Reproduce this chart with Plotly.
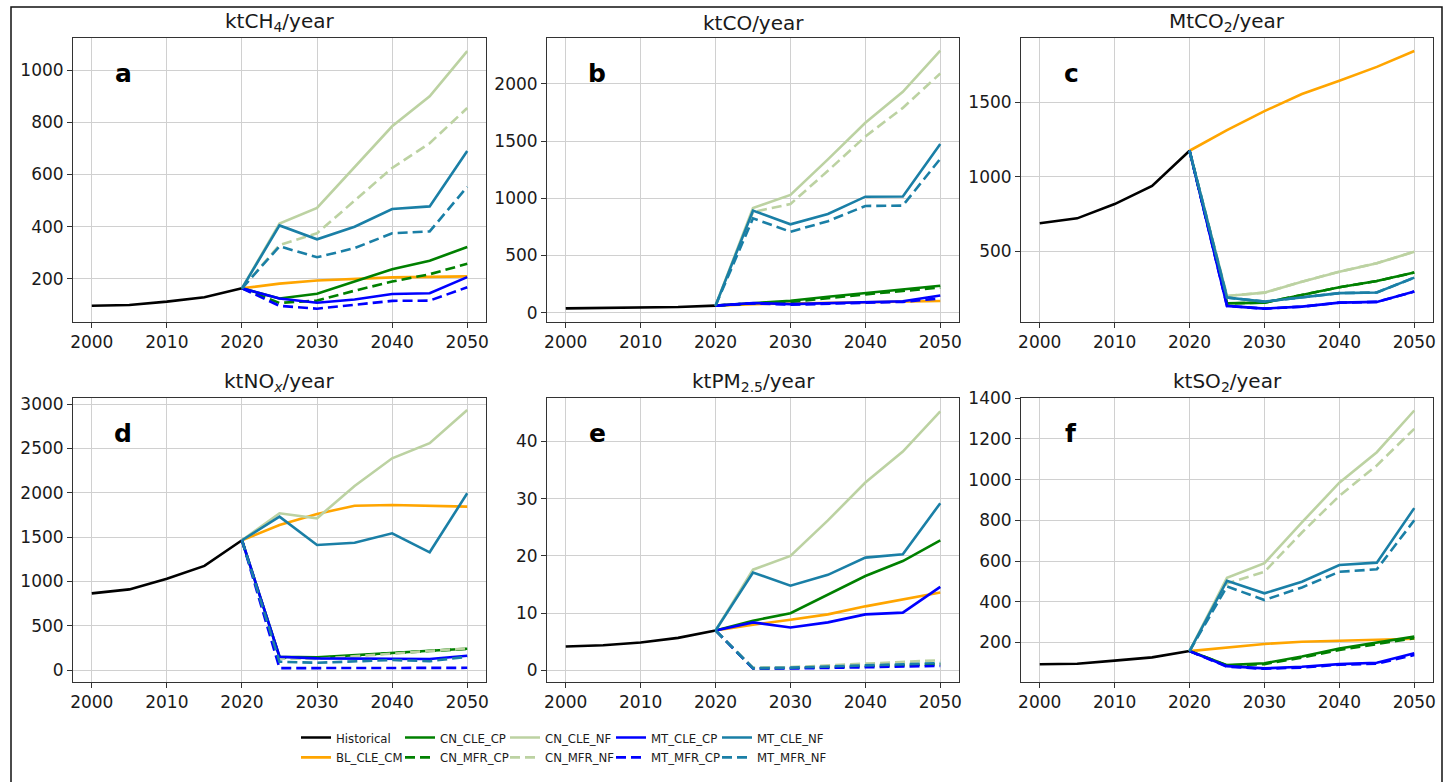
import plotly.graph_objects as go

W, H = 1443, 782

# ---------------- data ----------------
HIST_YEARS = [2000, 2005, 2010, 2015, 2020]
SCEN_YEARS = [2020, 2025, 2030, 2035, 2040, 2045, 2050]
X_TICKS = [2000, 2010, 2020, 2030, 2040, 2050]

SERIES = ["Historical", "BL_CLE_CM", "CN_CLE_CP", "CN_MFR_CP", "CN_CLE_NF",
          "CN_MFR_NF", "MT_CLE_CP", "MT_MFR_CP", "MT_CLE_NF", "MT_MFR_NF"]

# panel a: ktCH4/year
CH4_Historical = [97, 100, 113, 130, 164]
CH4_BL_CLE_CM = [164, 182, 194, 201, 206, 208, 210]
CH4_CN_CLE_CP = [164, 125, 143, 190, 237, 270, 322]
CH4_CN_MFR_CP = [164, 108, 117, 155, 190, 218, 258]
CH4_CN_CLE_NF = [164, 412, 472, 628, 785, 900, 1073]
CH4_CN_MFR_NF = [164, 330, 375, 500, 625, 720, 855]
CH4_MT_CLE_CP = [164, 125, 109, 121, 142, 145, 207]
CH4_MT_MFR_CP = [164, 97, 86, 100, 116, 117, 168]
CH4_MT_CLE_NF = [164, 405, 352, 400, 468, 478, 690]
CH4_MT_MFR_NF = [164, 325, 283, 318, 375, 382, 553]

# panel b: ktCO/year
CO_Historical = [38, 40, 44, 50, 62]
CO_BL_CLE_CM = [62, 75, 80, 85, 90, 95, 103]
CO_CN_CLE_CP = [62, 85, 105, 140, 170, 200, 236]
CO_CN_MFR_CP = [62, 82, 95, 130, 160, 190, 220]
CO_CN_CLE_NF = [62, 915, 1030, 1340, 1660, 1930, 2290]
CO_CN_MFR_NF = [62, 880, 950, 1240, 1540, 1790, 2090]
CO_MT_CLE_CP = [62, 85, 75, 85, 96, 100, 150]
CO_MT_MFR_CP = [62, 82, 70, 80, 90, 95, 125]
CO_MT_CLE_NF = [62, 892, 773, 863, 1014, 1016, 1475]
CO_MT_MFR_NF = [62, 825, 708, 800, 933, 936, 1345]

# panel c: MtCO2/year
CO2_Historical = [688, 721, 817, 938, 1175]
CO2_BL_CLE_CM = [1175, 1314, 1441, 1556, 1645, 1738, 1845]
CO2_CN_CLE_CP = [1175, 150, 155, 207, 258, 300, 357]
CO2_CN_MFR_CP = [1175, 150, 155, 207, 258, 300, 357]
CO2_CN_CLE_NF = [1175, 200, 222, 296, 363, 420, 497]
CO2_CN_MFR_NF = [1175, 200, 222, 296, 363, 420, 497]
CO2_MT_CLE_CP = [1175, 133, 115, 128, 155, 160, 229]
CO2_MT_MFR_CP = [1175, 133, 115, 128, 155, 160, 229]
CO2_MT_CLE_NF = [1175, 189, 162, 192, 219, 223, 323]
CO2_MT_MFR_NF = [1175, 189, 162, 192, 219, 223, 323]

# panel d: ktNOx/year
NOX_Historical = [865, 910, 1030, 1175, 1465]
NOX_BL_CLE_CM = [1465, 1637, 1761, 1855, 1863, 1852, 1844]
NOX_CN_CLE_CP = [1465, 150, 143, 170, 195, 218, 240]
NOX_CN_MFR_CP = [1465, 140, 135, 165, 190, 215, 238]
NOX_CN_CLE_NF = [1465, 1769, 1713, 2077, 2390, 2560, 2935]
NOX_CN_MFR_NF = [1465, 130, 125, 155, 185, 210, 245]
NOX_MT_CLE_CP = [1465, 150, 132, 130, 132, 124, 161]
NOX_MT_MFR_CP = [1465, 22, 22, 23, 23, 24, 25]
NOX_MT_CLE_NF = [1465, 1731, 1411, 1437, 1543, 1329, 1995]
NOX_MT_MFR_NF = [1465, 94, 82, 95, 113, 100, 150]

# panel e: ktPM2.5/year
PM_Historical = [4.2, 4.4, 4.9, 5.7, 7.0]
PM_BL_CLE_CM = [7.0, 8.0, 8.85, 9.8, 11.2, 12.4, 13.6]
PM_CN_CLE_CP = [7.0, 8.7, 10.0, 13.2, 16.5, 19.1, 22.7]
PM_CN_MFR_CP = [7.0, 0.4, 0.45, 0.6, 0.8, 0.9, 1.1]
PM_CN_CLE_NF = [7.0, 17.6, 20.0, 26.2, 32.8, 38.2, 45.2]
PM_CN_MFR_NF = [7.0, 0.5, 0.6, 0.9, 1.2, 1.4, 1.8]
PM_MT_CLE_CP = [7.0, 8.4, 7.5, 8.4, 9.8, 10.1, 14.6]
PM_MT_MFR_CP = [7.0, 0.35, 0.35, 0.45, 0.55, 0.6, 0.8]
PM_MT_CLE_NF = [7.0, 17.1, 14.8, 16.7, 19.7, 20.3, 29.2]
PM_MT_MFR_NF = [7.0, 0.4, 0.5, 0.7, 0.9, 1.0, 1.3]

# panel f: ktSO2/year
SO2_Historical = [92, 95, 110, 126, 157]
SO2_BL_CLE_CM = [157, 175, 192, 203, 208, 211, 218]
SO2_CN_CLE_CP = [157, 88, 97, 130, 170, 200, 228]
SO2_CN_MFR_CP = [157, 86, 93, 125, 163, 192, 220]
SO2_CN_CLE_NF = [157, 518, 589, 790, 985, 1135, 1340]
SO2_CN_MFR_NF = [157, 490, 547, 740, 920, 1070, 1250]
SO2_MT_CLE_CP = [157, 83, 72, 80, 93, 100, 146]
SO2_MT_MFR_CP = [157, 80, 70, 76, 90, 95, 138]
SO2_MT_CLE_NF = [157, 503, 441, 498, 580, 592, 860]
SO2_MT_MFR_NF = [157, 475, 408, 470, 547, 559, 800]

PANEL_PREFIX = ["CH4", "CO", "CO2", "NOX", "PM", "SO2"]
PANEL_TITLES = ["ktCH<sub>4</sub>/year", "ktCO/year", "MtCO<sub>2</sub>/year",
                "ktNO<sub><i>x</i></sub>/year", "ktPM<sub>2.5</sub>/year", "ktSO<sub>2</sub>/year"]
PANEL_LETTERS = ["a", "b", "c", "d", "e", "f"]
Y_TICKS = [
    [200, 400, 600, 800, 1000],
    [0, 500, 1000, 1500, 2000],
    [500, 1000, 1500],
    [0, 500, 1000, 1500, 2000, 2500, 3000],
    [0, 10, 20, 30, 40],
    [200, 400, 600, 800, 1000, 1200, 1400],
]
Y_RANGES = [[35, 1122], [-81, 2398], [25, 1930], [-135, 3067], [-2.0, 47.5], [5, 1400]]

# ---------------- styles ----------------
COLORS = {
    "Historical": "#000000", "BL_CLE_CM": "#FFA500",
    "CN_CLE_CP": "#008000", "CN_MFR_CP": "#008000",
    "CN_CLE_NF": "#bcd2a2", "CN_MFR_NF": "#bcd2a2",
    "MT_CLE_CP": "#0000FF", "MT_MFR_CP": "#0000FF",
    "MT_CLE_NF": "#1a7fa6", "MT_MFR_NF": "#1a7fa6",
}
# legend columns (column-major like the reference)
LEGEND_COLUMN = {
    "Historical": "legend", "BL_CLE_CM": "legend",
    "CN_CLE_CP": "legend2", "CN_MFR_CP": "legend2",
    "CN_CLE_NF": "legend3", "CN_MFR_NF": "legend3",
    "MT_CLE_CP": "legend4", "MT_MFR_CP": "legend4",
    "MT_CLE_NF": "legend5", "MT_MFR_NF": "legend5",
}
LEGEND_X_PIX = [296, 400, 505, 611, 717]

# pixel layout of the panel frames
X_PIX = [(73, 486), (547, 959), (1021, 1433)]
Y_PIX = [(38.3, 322), (398.3, 682)]

FONT = "DejaVu Sans, Arial, sans-serif"

fig = go.Figure()
layout = dict(
    width=W, height=H,
    margin=dict(l=0, r=0, t=0, b=0, autoexpand=False),
    paper_bgcolor="white", plot_bgcolor="white",
    font=dict(family=FONT, size=17, color="#1a1a1a"),
    annotations=[], shapes=[],
)

for i, pre in enumerate(PANEL_PREFIX):
    r, c = divmod(i, 3)
    k = "" if i == 0 else str(i + 1)
    xd = [X_PIX[c][0] / W, X_PIX[c][1] / W]
    yd = [1 - Y_PIX[r][1] / H, 1 - Y_PIX[r][0] / H]
    axis_common = dict(
        showline=True, mirror=True, linecolor="#333333", linewidth=1,
        showgrid=True, gridcolor="#d0d0d0", gridwidth=1,
        ticks="outside", ticklen=5, tickwidth=1, tickcolor="#333333",
        tickfont=dict(family=FONT, size=17, color="#1a1a1a"),
        zeroline=False,
    )
    layout["xaxis" + k] = dict(axis_common, domain=xd, anchor="y" + k,
                               range=[1997.5, 2052.5], tickvals=X_TICKS)
    layout["yaxis" + k] = dict(axis_common, domain=yd, anchor="x" + k,
                               range=Y_RANGES[i], tickvals=Y_TICKS[i])

    for name in SERIES:
        vals = globals()[f"{pre}_{name}"]
        xs = HIST_YEARS if name == "Historical" else SCEN_YEARS
        dashed = "MFR" in name
        fig.add_trace(go.Scatter(
            x=xs, y=vals, mode="lines", name=name,
            xaxis="x" + k, yaxis="y" + k,
            line=dict(color=COLORS[name], width=2.6,
                      dash="10px,5px" if dashed else "solid"),
            legendgroup=name, showlegend=(i == 0),
            legend=LEGEND_COLUMN[name],
        ))

    layout["annotations"].append(dict(
        text=PANEL_TITLES[i], xref=f"x{k} domain", yref=f"y{k} domain",
        x=0.5, y=1.0, xanchor="center", yanchor="bottom", yshift=1,
        showarrow=False, font=dict(family=FONT, size=20, color="#1a1a1a"),
    ))
    layout["annotations"].append(dict(
        text=f"<b>{PANEL_LETTERS[i]}</b>", xref=f"x{k} domain", yref=f"y{k} domain",
        x=0.122, y=0.876, xanchor="center", yanchor="middle",
        showarrow=False, font=dict(family=FONT, size=25, color="#000000"),
    ))

for j, lx in enumerate(LEGEND_X_PIX):
    key = "legend" if j == 0 else f"legend{j + 1}"
    layout[key] = dict(
        orientation="v", xanchor="left", yanchor="middle",
        x=lx / W, y=1 - 747.5 / H,
        itemwidth=30, bgcolor="rgba(0,0,0,0)", borderwidth=0,
        font=dict(family="DejaVu Sans Condensed, DejaVu Sans, sans-serif",
                  size=13, color="#1a1a1a"),
        tracegroupgap=0, traceorder="normal",
    )

layout["shapes"].append(dict(
    type="rect", xref="paper", yref="paper",
    x0=11 / W, x1=1442 / W, y0=-0.05, y1=1 - 7 / H,
    line=dict(color="#111111", width=1.5), fillcolor="rgba(0,0,0,0)", layer="above",
))

fig.update_layout(**layout)
fig.write_html("out.html")
